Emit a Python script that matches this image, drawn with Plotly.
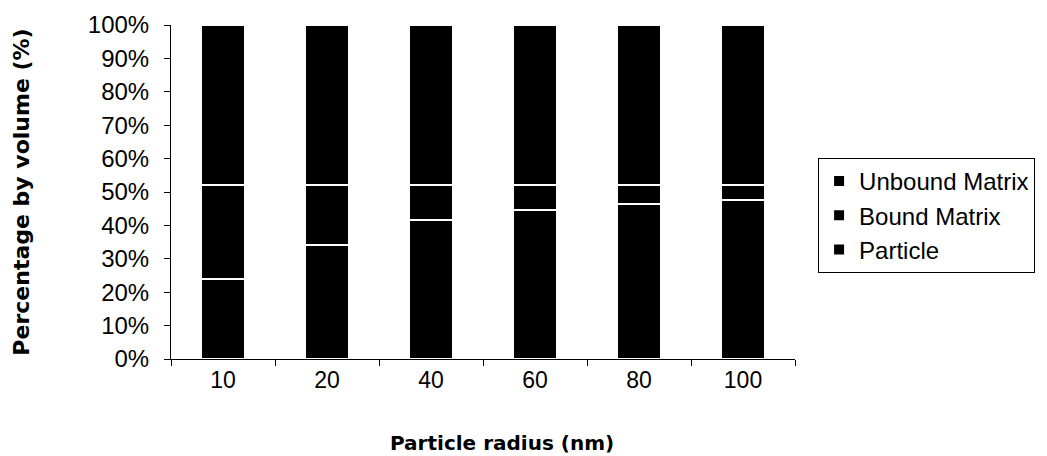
import plotly.graph_objects as go

categories = ["10", "20", "40", "60", "80", "100"]
particle = [24.0, 34.0, 41.5, 44.5, 46.5, 47.5]
bound_matrix = [28.0, 18.0, 10.5, 7.5, 5.5, 4.5]
unbound_matrix = [48.0, 48.0, 48.0, 48.0, 48.0, 48.0]
y_ticks = list(range(0, 101, 10))
y_tick_labels = [f"{v}%" for v in y_ticks]

series = [
    ("Particle", particle),
    ("Bound Matrix", bound_matrix),
    ("Unbound Matrix", unbound_matrix),
]

fig = go.Figure()
for name, vals in series:
    fig.add_trace(go.Bar(
        x=categories, y=vals, name=name,
        marker=dict(color="black", line=dict(color="white", width=2)),
    ))

fig.update_layout(
    width=1047, height=456,
    barmode="stack", bargap=0.585,
    plot_bgcolor="white", paper_bgcolor="white",
    margin=dict(l=171, r=252, t=25, b=97),
    font=dict(family="Liberation Sans, Arial", color="black", size=23),
    legend=dict(
        x=1.037, y=0.602, xanchor="left", yanchor="top",
        traceorder="reversed",
        bordercolor="black", borderwidth=1,
        font=dict(size=24, family="Liberation Sans, Arial"),
        itemsizing="constant",
        tracegroupgap=0,
    ),
    showlegend=True,
    annotations=[dict(
        text="Particle radius (nm)", xref="paper", yref="paper",
        x=0.53, y=-0.25, xanchor="center", yanchor="middle", showarrow=False,
        font=dict(family="DejaVu Sans", size=20, weight="bold"),
    )],
)
fig.update_xaxes(
    type="category",
    showline=True, linecolor="black", linewidth=1,
    ticks="outside", ticklen=6, tickcolor="black", tickson="boundaries",
    showgrid=False,
    tickfont=dict(size=23),
)
fig.update_yaxes(
    range=[0, 100],
    tickvals=y_ticks, ticktext=y_tick_labels,
    showline=True, linecolor="black", linewidth=1,
    ticks="outside", ticklen=6, tickcolor="black",
    ticklabelstandoff=10,
    showgrid=False, zeroline=False,
    tickfont=dict(size=24),
    title=dict(text="Percentage by volume (%)",
               font=dict(family="DejaVu Sans", size=22, weight="bold"),
               standoff=52),
)

fig.write_html("out.html")
